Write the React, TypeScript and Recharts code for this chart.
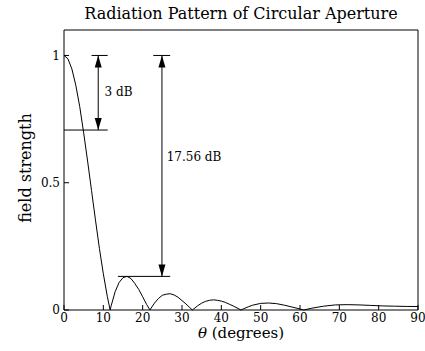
import {Line, LineChart, ReferenceDot, ReferenceLine, XAxis, YAxis} from 'recharts';

// angles in degrees, with the nulls put in where the curve touches zero
const angleDeg = [
    0, 1, 2, 3, 4, 5, 6, 7, 8, 9, 10, 11, 11.73,
    12, 13, 14, 15, 16, 17, 18, 19, 20, 21, 21.85,
    22, 23, 24, 25, 26, 27, 28, 29, 30, 31, 32, 32.66,
    33, 34, 35, 36, 37, 38, 39, 40, 41, 42, 43, 44, 44.98,
    46, 47, 48, 50, 52, 54, 56, 58, 60, 60.9,
    63, 66, 69, 72, 75, 78, 81, 84, 87, 90,
];
const fieldStrength = [
    1, 0.987, 0.947, 0.883, 0.799, 0.696, 0.585, 0.469, 0.354, 0.242, 0.142, 0.054, 0,
    0.017, 0.072, 0.108, 0.127, 0.132, 0.124, 0.104, 0.081, 0.052, 0.022, 0,
    0.004, 0.027, 0.045, 0.058, 0.062, 0.064, 0.059, 0.05, 0.037, 0.024, 0.009, 0,
    0.0045, 0.017, 0.027, 0.034, 0.038, 0.04, 0.038, 0.035, 0.03, 0.023, 0.016, 0.008, 0,
    0.007, 0.0135, 0.019, 0.026, 0.0275, 0.025, 0.019, 0.0115, 0.004, 0,
    0.007, 0.015, 0.02, 0.021, 0.02, 0.018, 0.016, 0.015, 0.014, 0.0136,
];
const xTicks = [0, 10, 20, 30, 40, 50, 60, 70, 80, 90];
const yTicks = [0, 0.5, 1];

const halfPower = 0.707;
const sideLobe = 0.132;

const data = angleDeg.map((theta, i) => ({theta, field: fieldStrength[i]}));

const FONT = '"DejaVu Serif", serif';

const arrowHead = (dir: 'up' | 'down') => (p: any) => {
    const {cx, cy} = p;
    const w = 3.5;
    const h = 12;
    const s = dir === 'up' ? 1 : -1;
    return <polygon points={`${cx},${cy} ${cx - w},${cy + s * h} ${cx + w},${cy + s * h}`} fill="#000" />;
};

const note = (txt: string) => (p: any) => (
    <text x={p.cx} y={p.cy} dy="0.35em" fontFamily={FONT} fontSize={12} fill="#000">{txt}</text>
);

export default function App() {
    return (
        <div style={{position: 'absolute', left: 0, top: 0}}>
            <LineChart width={425} height={351} data={data} margin={{top: 29, right: 6, bottom: 11, left: 24}}>
                <XAxis
                    dataKey="theta"
                    type="number"
                    domain={[0, 90]}
                    ticks={xTicks}
                    tickSize={-5}
                    tickMargin={8}
                    height={30}
                    stroke="#000"
                    tick={{fill: '#000', fontFamily: FONT, fontSize: 12}}
                    label={(p: any) => (
                        <text x={p.viewBox.x + p.viewBox.width / 2} y={p.viewBox.y + 28} textAnchor="middle"
                              fontFamily={FONT} fontSize={15} fill="#000">
                            <tspan fontStyle="italic">θ</tspan> (degrees)
                        </text>
                    )}
                />
                <XAxis
                    xAxisId="top"
                    orientation="top"
                    dataKey="theta"
                    type="number"
                    domain={[0, 90]}
                    ticks={xTicks}
                    tickSize={-5}
                    tick={false}
                    height={1}
                    stroke="#000"
                    label={(p: any) => (
                        <text x={p.viewBox.x + p.viewBox.width / 2} y={p.viewBox.y - 10} textAnchor="middle"
                              fontFamily={FONT} fontSize={16} fill="#000">
                            Radiation Pattern of Circular Aperture
                        </text>
                    )}
                />
                <YAxis
                    type="number"
                    domain={[0, 1.1]}
                    ticks={yTicks}
                    tickSize={-5}
                    tickMargin={9}
                    width={40}
                    stroke="#000"
                    tick={{fill: '#000', fontFamily: FONT, fontSize: 12}}
                    label={(p: any) => {
                        const x = p.viewBox.x + 7;
                        const y = p.viewBox.y + p.viewBox.height / 2 - 2;
                        return (
                            <text x={x} y={y} transform={`rotate(-90 ${x} ${y})`} textAnchor="middle"
                                  fontFamily={FONT} fontSize={16} fill="#000">
                                field strength
                            </text>
                        );
                    }}
                />
                <YAxis
                    yAxisId="right"
                    orientation="right"
                    type="number"
                    domain={[0, 1.1]}
                    ticks={yTicks}
                    tickSize={-5}
                    tick={false}
                    width={1}
                    stroke="#000"
                />

                {/* 3 dB marker */}
                <ReferenceLine segment={[{x: 0, y: halfPower}, {x: 11.1, y: halfPower}]} stroke="#000" />
                <ReferenceLine segment={[{x: 7.0, y: 1}, {x: 11.1, y: 1}]} stroke="#000" />
                <ReferenceLine segment={[{x: 8.7, y: 1}, {x: 8.7, y: halfPower}]} stroke="#000" />
                <ReferenceDot x={8.7} y={1} shape={arrowHead('up')} />
                <ReferenceDot x={8.7} y={halfPower} shape={arrowHead('down')} />
                <ReferenceDot x={10.3} y={0.857} shape={note('3 dB')} />

                {/* side lobe marker */}
                <ReferenceLine segment={[{x: 13.7, y: sideLobe}, {x: 27, y: sideLobe}]} stroke="#000" />
                <ReferenceLine segment={[{x: 22.7, y: 1}, {x: 27, y: 1}]} stroke="#000" />
                <ReferenceLine segment={[{x: 24.9, y: 1}, {x: 24.9, y: sideLobe}]} stroke="#000" />
                <ReferenceDot x={24.9} y={1} shape={arrowHead('up')} />
                <ReferenceDot x={24.9} y={sideLobe} shape={arrowHead('down')} />
                <ReferenceDot x={26.1} y={0.602} shape={note('17.56 dB')} />

                <Line type="linear" dataKey="field" stroke="#000" strokeWidth={1} dot={false} isAnimationActive={false} />
            </LineChart>
        </div>
    );
}
